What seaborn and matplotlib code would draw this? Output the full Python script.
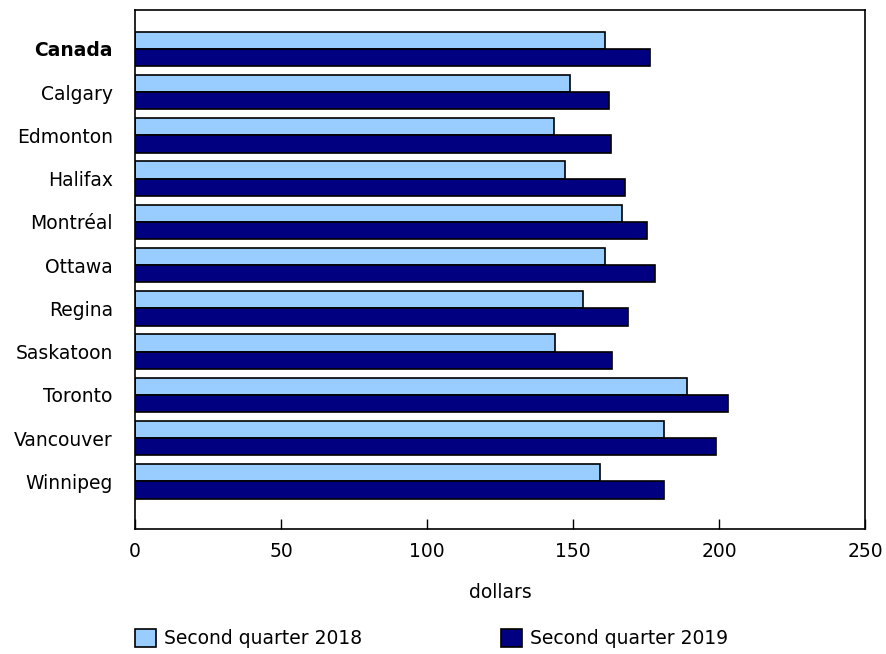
import numpy as np
import pandas as pd
import seaborn as sns
import matplotlib.pyplot as plt

cities = ['Canada', 'Calgary', 'Edmonton', 'Halifax', 'Montréal', 'Ottawa',
          'Regina', 'Saskatoon', 'Toronto', 'Vancouver', 'Winnipeg']
q2_2018 = [161.0, 148.8, 143.5, 147.2, 166.8, 161.1, 153.4, 143.8, 189.2, 181.0, 159.3]
q2_2019 = [176.4, 162.4, 163.1, 167.9, 175.5, 178.2, 168.8, 163.3, 203.1, 198.8, 181.0]
series = ['Second quarter 2018', 'Second quarter 2019']
colors = ['#99CCFF', '#000080']

df = pd.DataFrame({
    'city': cities * 2,
    'dollars': q2_2018 + q2_2019,
    'period': [series[0]] * len(cities) + [series[1]] * len(cities),
})

sns.set_style('white')
plt.rcParams['font.family'] = ['DejaVu Sans']
plt.rcParams['font.size'] = 13.5
plt.rcParams['text.color'] = 'black'
plt.rcParams['axes.labelcolor'] = 'black'
plt.rcParams['xtick.color'] = 'black'
plt.rcParams['ytick.color'] = 'black'

fig, ax = plt.subplots(figsize=(8.86, 6.54), dpi=100)
fig.subplots_adjust(left=0.1524, right=0.9763, top=0.9847, bottom=0.1911)

sns.barplot(data=df, y='city', x='dollars', hue='period', orient='h',
            palette=colors, width=0.8, edgecolor='black', linewidth=1.2,
            saturation=1, ax=ax)

ax.set_xlim(0, 250)
ax.set_xticks([0, 50, 100, 150, 200, 250])
ax.set_ylim(11.1, -0.9)
ax.set_ylabel('')
ax.set_xlabel('dollars', fontsize=13.5, labelpad=16)
ax.tick_params(axis='x', direction='in', length=7, width=1, color='black',
               labelcolor='black', labelsize=13.5, pad=9, bottom=True)
ax.tick_params(axis='y', length=0, pad=16, labelsize=13.5, labelcolor='black')
for lbl in ax.get_yticklabels():
    if lbl.get_text() == 'Canada':
        lbl.set_fontweight('bold')

for s in ax.spines.values():
    s.set_color('black')
    s.set_linewidth(1.2)

handles, labels = ax.get_legend_handles_labels()
leg = ax.legend(handles, labels, loc='center left', bbox_to_anchor=(0.1524, 0.024),
                bbox_transform=fig.transFigure, ncol=2, frameon=False, fontsize=13.5,
                borderaxespad=0, borderpad=0, handlelength=1.1, handleheight=1.1,
                handletextpad=0.45, columnspacing=7.4)
for t in leg.get_texts():
    t.set_color('black')

fig.savefig('out.png', dpi=100)
